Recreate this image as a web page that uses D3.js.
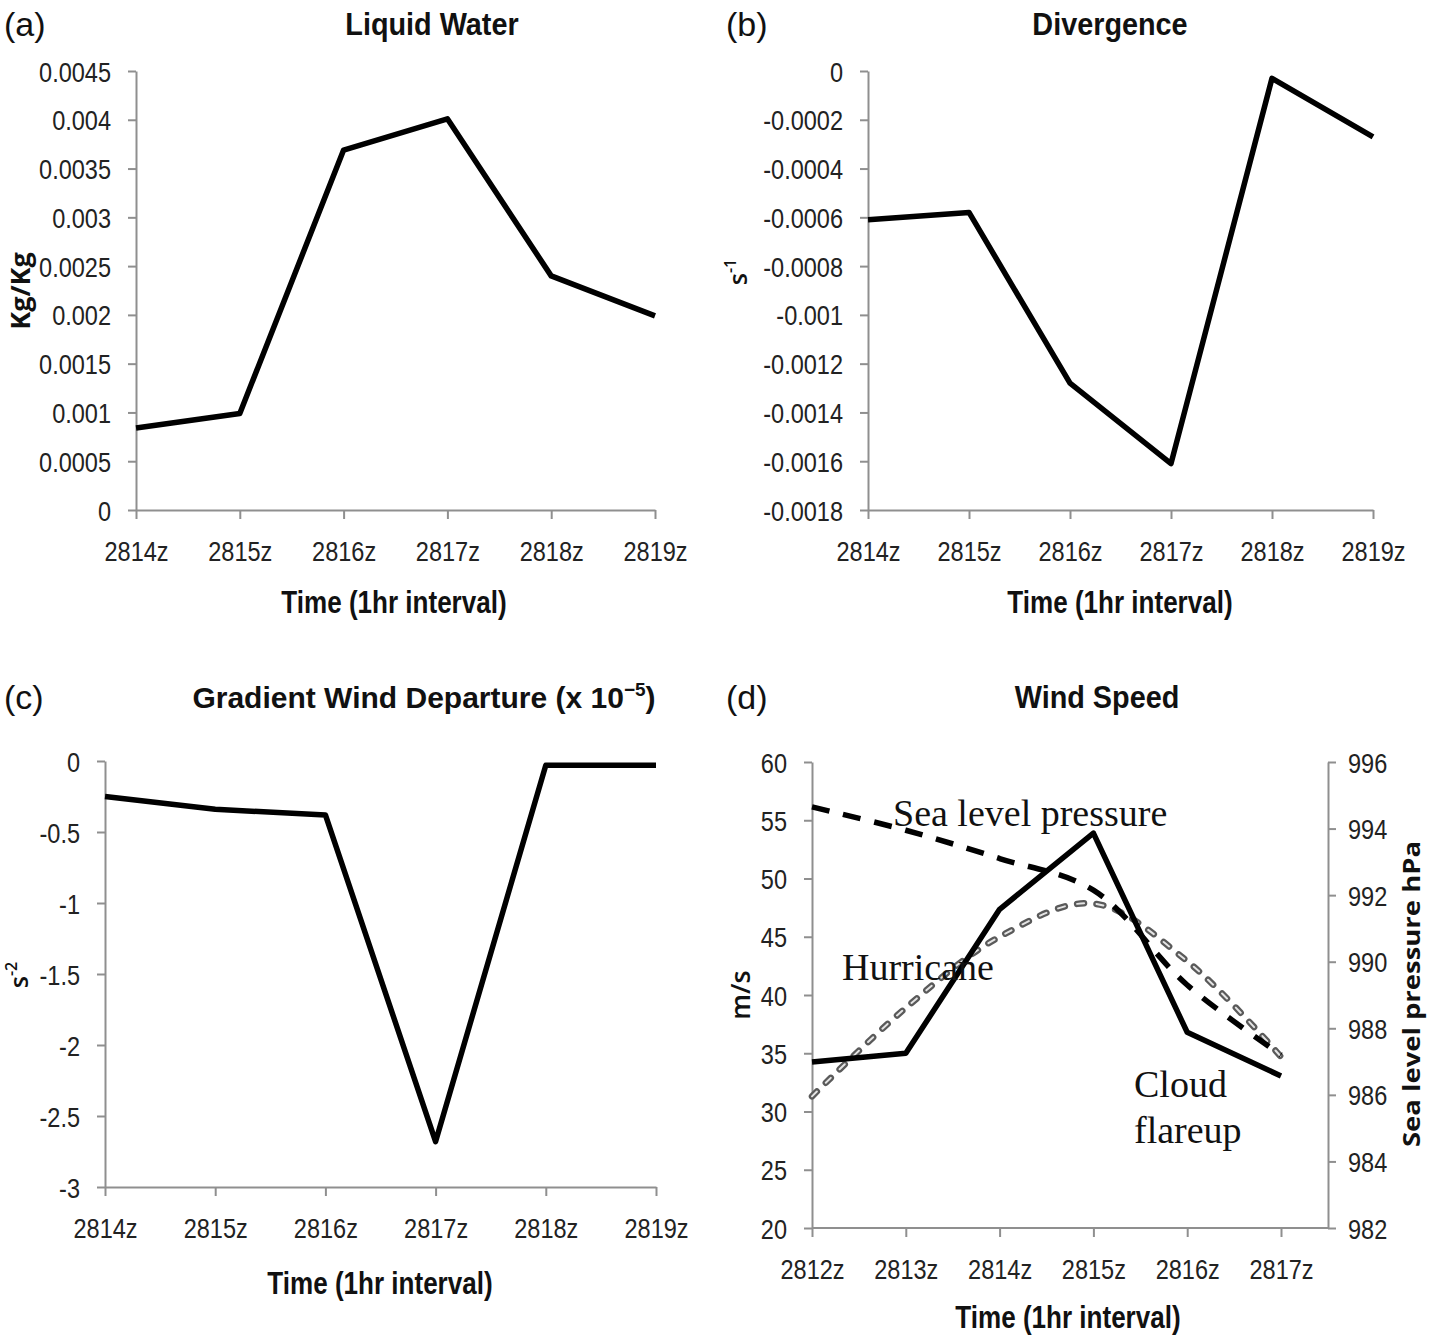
<!DOCTYPE html>
<html>
<head>
<meta charset="utf-8">
<script src="https://cdn.jsdelivr.net/npm/d3@7"></script>
<style>
  body { margin: 0; background: #fff; }
  text { fill: #111; }
  .tick-label { font-family: "Liberation Sans", Arial, sans-serif; font-size: 28px; fill: #222; }
  .title { font-family: "Liberation Sans", Arial, sans-serif; font-size: 32px; font-weight: bold; }
  .xtitle { font-family: "Liberation Sans", Arial, sans-serif; font-size: 31px; font-weight: bold; }
  .ytitle { font-family: "Open Sans", sans-serif; font-size: 27px; font-weight: 600; }
  .panel { font-family: "Liberation Sans", Arial, sans-serif; font-size: 34px; }
  .note { font-family: "Liberation Serif", "Times New Roman", serif; font-size: 38px; }
</style>
</head>
<body>
<script>
// categories
let timesA = ["2814z", "2815z", "2816z", "2817z", "2818z", "2819z"];
let timesD = ["2812z", "2813z", "2814z", "2815z", "2816z", "2817z"];

// (a) liquid water, Kg/Kg
let liquidWater = [0.00084, 0.00099, 0.00369, 0.00401, 0.0024, 0.00199];
let ticksA = [0, 0.0005, 0.001, 0.0015, 0.002, 0.0025, 0.003, 0.0035, 0.004, 0.0045];

// (b) divergence, s-1
let divergence = [-0.00061, -0.00058, -0.00128, -0.00161, -0.00003, -0.00027];
let ticksB = [-0.0018, -0.0016, -0.0014, -0.0012, -0.001, -0.0008, -0.0006, -0.0004, -0.0002, 0];

// (c) gradient wind departure (x 10^-5), s-2
let gradWind = [-0.25, -0.34, -0.38, -2.68, -0.03, -0.03];
let ticksC = [-3, -2.5, -2, -1.5, -1, -0.5, 0];

// (d) wind speed m/s and sea level pressure hPa
let cloudWind = [34.25, 35.0, 47.35, 53.9, 36.8, 33.05];
let hurricaneWind = [31.3, 38.9, 45.0, 47.85, 42.9, 34.7];
let pressure = [994.65, 993.95, 993.1, 992.15, 989.3, 987.2];
let ticksD = [20, 25, 30, 35, 40, 45, 50, 55, 60];
let ticksP = [982, 984, 986, 988, 990, 992, 994, 996];

var svg = d3.select("body").append("svg")
  .attr("width", 1430)
  .attr("height", 1338);

var axisColor = "#8f8f8f";

function fmt(v) {
  let s = (+v.toFixed(6)).toString();
  return s === "-0" ? "0" : s;
}

// squeeze text horizontally (narrow Calibri-like look)
function squeeze(sel, k) {
  sel.each(function () {
    let w = this.getComputedTextLength();
    d3.select(this).attr("textLength", w * k).attr("lengthAdjust", "spacingAndGlyphs");
  });
}

// draws axes of a panel and returns scales
function panel(cfg) {
  var x = d3.scalePoint().domain(cfg.cats).range([cfg.x0, cfg.x1]);
  var y = d3.scaleLinear().domain(cfg.domain).range([cfg.yBot, cfg.yTop]);

  // y axis
  var ya = svg.append("g")
    .attr("transform", "translate(" + cfg.x0 + ",0)")
    .call(d3.axisLeft(y).tickValues(cfg.ticks).tickFormat(fmt).tickSize(8).tickSizeOuter(0).tickPadding(17));
  ya.selectAll("text").attr("class", "tick-label").attr("dy", "0.36em");

  // x axis
  var xa = svg.append("g")
    .attr("transform", "translate(0," + cfg.yBot + ")")
    .call(d3.axisBottom(x).tickSize(9).tickSizeOuter(0).tickPadding(22));
  xa.selectAll("text").attr("class", "tick-label").attr("dy", "0.71em");
  if (cfg.xEnd) {
    xa.select(".domain").attr("d", "M" + cfg.x0 + ",0H" + cfg.xEnd);
  }

  [ya, xa].forEach(g => {
    g.select(".domain").attr("stroke", axisColor).attr("stroke-width", 2);
    g.selectAll(".tick line").attr("stroke", axisColor).attr("stroke-width", 2);
  });

  // labels
  svg.append("text").attr("class", "panel").attr("x", cfg.px).attr("y", cfg.py).text(cfg.letter);
  svg.append("text").attr("class", "xtitle").attr("x", cfg.xtX).attr("y", cfg.xtY)
    .style("text-anchor", "middle").text("Time (1hr interval)");

  return { x: x, y: y };
}

function solidLine(data, cats, s) {
  svg.append("path")
    .datum(data)
    .attr("fill", "none")
    .attr("stroke", "#000")
    .attr("stroke-width", 5.5)
    .attr("stroke-linejoin", "round")
    .attr("d", d3.line().x((d, i) => s.x(cats[i])).y(d => s.y(d)));
}

// (a)
var sa = panel({ cats: timesA, x0: 136, x1: 655, yTop: 71, yBot: 510, domain: [0, 0.0045], ticks: ticksA,
  letter: "(a)", px: 4, py: 36, xtX: 394, xtY: 613 });
solidLine(liquidWater, timesA, sa);
svg.append("text").attr("class", "title").attr("x", 432).attr("y", 35).style("text-anchor", "middle").text("Liquid Water");
svg.append("text").attr("class", "ytitle").attr("transform", "translate(30,291) rotate(-90)")
  .style("text-anchor", "middle").style("font-weight", "bold").text("Kg/Kg");

// (b)
var sb = panel({ cats: timesA, x0: 868, x1: 1373, yTop: 71, yBot: 510, domain: [-0.0018, 0], ticks: ticksB,
  letter: "(b)", px: 726, py: 36, xtX: 1120, xtY: 613 });
solidLine(divergence, timesA, sb);
svg.append("text").attr("class", "title").attr("x", 1110).attr("y", 35).style("text-anchor", "middle").text("Divergence");
var tb = svg.append("text").attr("class", "ytitle").attr("transform", "translate(747,272) rotate(-90)")
  .style("text-anchor", "middle").style("font-size", "25px");
tb.append("tspan").text("s");
tb.append("tspan").attr("dy", -11).style("font-size", "16px").text("-1");

// (c)
var sc = panel({ cats: timesA, x0: 105, x1: 656, yTop: 761, yBot: 1187, domain: [-3, 0], ticks: ticksC,
  letter: "(c)", px: 4, py: 709, xtX: 380, xtY: 1294 });
solidLine(gradWind, timesA, sc);
var tc = svg.append("text").attr("class", "title").attr("x", 424).attr("y", 708).style("text-anchor", "middle")
  .style("font-size", "30px");
tc.append("tspan").text("Gradient Wind Departure (x 10");
tc.append("tspan").attr("dy", -12).style("font-size", "19px").text("\u22125");
tc.append("tspan").attr("dy", 12).text(")");
var tcy = svg.append("text").attr("class", "ytitle").attr("transform", "translate(28,975) rotate(-90)")
  .style("text-anchor", "middle").style("font-size", "25px");
tcy.append("tspan").text("s");
tcy.append("tspan").attr("dy", -11).style("font-size", "16px").text("-2");

// (d)
var sd = panel({ cats: timesD, x0: 812, x1: 1281, xEnd: 1328, yTop: 762, yBot: 1228, domain: [20, 60], ticks: ticksD,
  letter: "(d)", px: 726, py: 709, xtX: 1068, xtY: 1328 });
var yP = d3.scaleLinear().domain([982, 996]).range([1228, 762]);

var pa = svg.append("g")
  .attr("transform", "translate(1328,0)")
  .call(d3.axisRight(yP).tickValues(ticksP).tickFormat(d => d).tickSize(8).tickSizeOuter(0).tickPadding(12));
pa.selectAll("text").attr("class", "tick-label").attr("dy", "0.36em");
pa.select(".domain").attr("stroke", axisColor).attr("stroke-width", 2);
pa.selectAll(".tick line").attr("stroke", axisColor).attr("stroke-width", 2);

svg.append("text").attr("class", "title").attr("x", 1097).attr("y", 708).style("text-anchor", "middle").text("Wind Speed");
svg.append("text").attr("class", "ytitle").attr("transform", "translate(750,995) rotate(-90)")
  .style("text-anchor", "middle").text("m/s");
svg.append("text").attr("class", "ytitle").attr("transform", "translate(1420,994) rotate(-90)")
  .style("text-anchor", "middle").style("font-size", "24px").style("font-weight", "bold")
  .attr("textLength", 306).attr("lengthAdjust", "spacingAndGlyphs")
  .text("Sea level pressure hPa");

// hurricane wind: grey double dotted
var hLine = d3.line().curve(d3.curveCatmullRom.alpha(0.5))
  .x((d, i) => sd.x(timesD[i])).y(d => sd.y(d));
svg.append("path").datum(hurricaneWind)
  .attr("fill", "none").attr("stroke", "#5a5a5a").attr("stroke-width", 6.5)
  .attr("stroke-linecap", "round").attr("stroke-dasharray", "7 12.5")
  .attr("d", hLine);
svg.append("path").datum(hurricaneWind)
  .attr("fill", "none").attr("stroke", "#e4e4e4").attr("stroke-width", 2)
  .attr("stroke-linecap", "round").attr("stroke-dasharray", "7 12.5")
  .attr("d", hLine);

// sea level pressure: black dashed
svg.append("path").datum(pressure)
  .attr("fill", "none").attr("stroke", "#000").attr("stroke-width", 5.5)
  .attr("stroke-dasharray", "18 14")
  .attr("d", d3.line().curve(d3.curveCatmullRom.alpha(0.5))
    .x((d, i) => sd.x(timesD[i])).y(d => yP(d)));

// cloud flareup wind: solid
solidLine(cloudWind, timesD, sd);

svg.append("text").attr("class", "note").attr("x", 893).attr("y", 826).text("Sea level pressure");
svg.append("text").attr("class", "note").attr("x", 842).attr("y", 980).text("Hurricane");
svg.append("text").attr("class", "note").attr("x", 1134).attr("y", 1097).text("Cloud");
svg.append("text").attr("class", "note").attr("x", 1134).attr("y", 1143).text("flareup");

// narrow the sans texts like the original
squeeze(svg.selectAll(".tick-label"), 0.84);
squeeze(svg.selectAll(".xtitle"), 0.84);
squeeze(svg.selectAll(".title").filter(function () { return this.childElementCount === 0; }), 0.9);
</script>
</body>
</html>
